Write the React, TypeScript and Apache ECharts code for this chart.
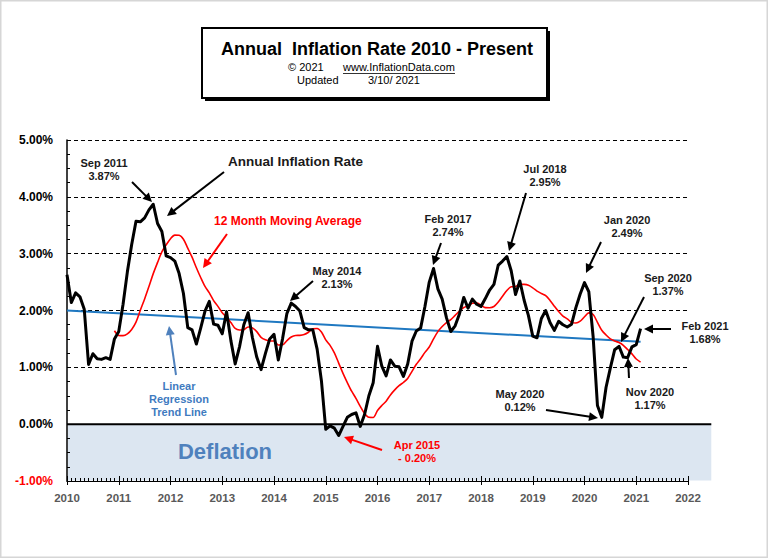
import React, { useEffect, useRef } from "react";
import * as echarts from "echarts";

// ---------- DATA ----------
const START_YEAR = 2010;
const rate2010 = [2.63, 2.14, 2.31, 2.24, 2.02, 1.05, 1.24, 1.15, 1.14, 1.17, 1.14, 1.5];
const rate2011 = [1.63, 2.11, 2.68, 3.16, 3.57, 3.56, 3.63, 3.77, 3.87, 3.53, 3.39, 2.96];
const rate2012 = [2.93, 2.87, 2.65, 2.3, 1.7, 1.66, 1.41, 1.69, 1.99, 2.16, 1.76, 1.74];
const rate2013 = [1.59, 1.98, 1.47, 1.06, 1.36, 1.75, 1.96, 1.52, 1.18, 0.96, 1.24, 1.5];
const rate2014 = [1.58, 1.13, 1.51, 1.95, 2.13, 2.07, 1.99, 1.7, 1.66, 1.66, 1.32, 0.76];
const rate2015 = [-0.09, -0.03, -0.07, -0.2, -0.04, 0.12, 0.17, 0.2, -0.04, 0.17, 0.5, 0.73];
const rate2016 = [1.37, 1.02, 0.85, 1.13, 1.02, 1.01, 0.84, 1.06, 1.46, 1.64, 1.69, 2.07];
const rate2017 = [2.5, 2.74, 2.38, 2.2, 1.87, 1.63, 1.73, 1.94, 2.23, 2.04, 2.2, 2.11];
const rate2018 = [2.07, 2.21, 2.36, 2.46, 2.8, 2.87, 2.95, 2.7, 2.28, 2.52, 2.18, 1.91];
const rate2019 = [1.55, 1.52, 1.86, 2.0, 1.79, 1.65, 1.81, 1.75, 1.71, 1.76, 2.05, 2.29];
const rate2020 = [2.49, 2.33, 1.54, 0.33, 0.12, 0.65, 0.99, 1.31, 1.37, 1.18, 1.17, 1.36];
const rate2021 = [1.4, 1.68];

const annualRate = [
  ...rate2010, ...rate2011, ...rate2012, ...rate2013, ...rate2014, ...rate2015,
  ...rate2016, ...rate2017, ...rate2018, ...rate2019, ...rate2020, ...rate2021,
];

// 12 month moving average, first value = Dec 2010 (month index 11)
const MA_START_INDEX = 11;
const movingAvg = [
  1.644,
  1.561, 1.558, 1.589, 1.666, 1.795, 2.004, 2.203, 2.422, 2.649, 2.846, 3.033, 3.155,
  3.263, 3.327, 3.324, 3.253, 3.097, 2.938, 2.753, 2.58, 2.423, 2.309, 2.173, 2.072,
  1.96, 1.886, 1.788, 1.684, 1.656, 1.663, 1.709, 1.695, 1.628, 1.528, 1.484, 1.464,
  1.463, 1.393, 1.396, 1.47, 1.534, 1.561, 1.563, 1.578, 1.618, 1.677, 1.683, 1.622,
  1.483, 1.386, 1.254, 1.075, 0.894, 0.732, 0.58, 0.455, 0.313, 0.189, 0.121, 0.118,
  0.24, 0.328, 0.404, 0.515, 0.603, 0.678, 0.733, 0.805, 0.93, 1.053, 1.152, 1.263,
  1.358, 1.501, 1.628, 1.718, 1.788, 1.84, 1.914, 1.988, 2.052, 2.085, 2.128, 2.131,
  2.095, 2.051, 2.049, 2.071, 2.148, 2.252, 2.353, 2.417, 2.421, 2.461, 2.459, 2.443,
  2.399, 2.342, 2.3, 2.262, 2.178, 2.076, 1.981, 1.902, 1.854, 1.791, 1.78, 1.812,
  1.89, 1.958, 1.931, 1.792, 1.653, 1.569, 1.501, 1.464, 1.436, 1.388, 1.314, 1.237,
  1.146, 1.092,
];

// linear regression trend line end points (year, %)
const trendYears = [2010, 2021 + 1 / 12];
const trendValues = [2.0, 1.45];

const X_MIN = 2010;
const X_MAX = 2022;
const Y_MIN = -1;
const Y_MAX = 5;

const FONT = 'Arial, "Liberation Sans", sans-serif';
const RED = "#ff0000";
const BLUE_LINE = "#1f78c1";
const BLUE_TEXT = "#3f7bbf";
const DEFLATION_FILL = "#dce6f1";

// annotations (layout)
type Ann = { text: string; x: number; y: number; color?: string; size?: number; align?: string; arrow?: number[] };
const annotations: Ann[] = [
  { text: "Sep 2011\n3.87%", x: 104, y: 169.5, arrow: [132, 182, 152, 202] },
  { text: "Annual Inflation Rate", x: 228, y: 161, size: 13.5, align: "left", arrow: [224, 172, 167, 216] },
  { text: "12 Month Moving Average", x: 214, y: 221, size: 12, align: "left", color: RED, arrow: [227, 234, 203, 268] },
  { text: "Linear\nRegression\nTrend Line", x: 179, y: 399, color: BLUE_TEXT, arrow: [176, 375, 169, 326] },
  { text: "May 2014\n2.13%", x: 337, y: 277, arrow: [313, 281, 290, 301] },
  { text: "Apr 2015\n- 0.20%", x: 417, y: 451.5, color: RED, arrow: [382, 450, 344, 437] },
  { text: "Feb 2017\n2.74%", x: 448, y: 225, arrow: [441, 243, 433, 265] },
  { text: "Jul 2018\n2.95%", x: 545, y: 175, arrow: [526, 193, 509, 251] },
  { text: "Jan 2020\n2.49%", x: 627, y: 226, arrow: [601, 242, 586, 273] },
  { text: "Sep 2020\n1.37%", x: 668, y: 284.5, arrow: [644, 297, 621, 342] },
  { text: "Feb 2021\n1.68%", x: 705, y: 332.5, arrow: [671, 329, 644, 329] },
  { text: "Nov 2020\n1.17%", x: 650, y: 398, arrow: [629, 378, 628, 358] },
  { text: "May 2020\n0.12%", x: 520, y: 400, arrow: [546, 410, 598, 418] },
];

function arrowEls(x1: number, y1: number, x2: number, y2: number, color: string, w = 2) {
  const dx = x2 - x1;
  const dy = y2 - y1;
  const len = Math.hypot(dx, dy);
  const ux = dx / len;
  const uy = dy / len;
  const hl = 9;
  const hw = 4.5;
  const bx = x2 - ux * hl;
  const by = y2 - uy * hl;
  return [
    { type: "line", z: 20, shape: { x1, y1, x2: bx + ux, y2: by + uy }, style: { stroke: color, lineWidth: w } },
    {
      type: "polygon",
      z: 20,
      shape: { points: [[x2, y2], [bx - uy * hw, by + ux * hw], [bx + uy * hw, by - ux * hw]] },
      style: { fill: color },
    },
  ];
}

function textEl(text: string, x: number, y: number, size: number, color: string, align = "center", weight = "bold", lh?: number) {
  return {
    type: "text",
    z: 20,
    x,
    y,
    style: {
      text,
      fill: color,
      fontSize: size,
      fontWeight: weight,
      fontFamily: FONT,
      align,
      verticalAlign: "middle",
      textAlign: align,
      textVerticalAlign: "middle",
      lineHeight: lh ?? Math.round(size * 1.2),
    },
  };
}

export default function App() {
  const ref = useRef<HTMLDivElement>(null);

  useEffect(() => {
    if (!ref.current) return;
    const chart = echarts.init(ref.current, undefined, { renderer: "svg", width: 768, height: 558 });

    const rateData = annualRate.map((v, i) => [START_YEAR + i / 12, v]);
    const maData = movingAvg.map((v, i) => [START_YEAR + (i + MA_START_INDEX) / 12, v]);
    const trendData = trendYears.map((y, i) => [y, trendValues[i]]);

    chart.setOption({
      animation: false,
      backgroundColor: "#ffffff",
      grid: { left: 67, right: 80, top: 140, bottom: 77, containLabel: false },
      xAxis: [
        {
          type: "value",
          min: X_MIN,
          max: X_MAX,
          interval: 1,
          position: "bottom",
          axisLine: { show: true, onZero: false, lineStyle: { color: "#000", width: 1 } },
          axisTick: { show: true, inside: true, length: 5, lineStyle: { color: "#000", width: 1 } },
          minorTick: { show: true, splitNumber: 12, length: 3, lineStyle: { color: "#000", width: 1 } },
          axisLabel: {
            color: "#595959",
            fontWeight: "bold",
            fontSize: 11.5,
            fontFamily: FONT,
            margin: 11,
            formatter: (v: number) => String(Math.round(v)),
          },
          splitLine: { show: false },
        },
        {
          type: "value",
          min: X_MIN,
          max: X_MAX,
          interval: 1,
          position: "bottom",
          axisLine: { show: false, onZero: false },
          axisTick: { show: true, inside: false, length: 4, lineStyle: { color: "#000", width: 1 } },
          axisLabel: { show: false },
          splitLine: { show: false },
        },
      ],
      yAxis: {
        type: "value",
        min: Y_MIN,
        max: Y_MAX,
        interval: 1,
        axisLine: { show: true, onZero: false, lineStyle: { color: "#000", width: 1.5 } },
        axisTick: { show: true, inside: true, length: 4, lineStyle: { color: "#000", width: 1 } },
        minorTick: { show: true, splitNumber: 4, length: 3, lineStyle: { color: "#000", width: 1 } },
        axisLabel: {
          fontWeight: "bold",
          fontSize: 12,
          fontFamily: FONT,
          margin: 14,
          formatter: (v: number) => Number(v).toFixed(2) + "%",
          color: (v: any) => (Number(v) < 0 ? RED : "#000"),
        },
        splitLine: { show: true, lineStyle: { color: "#000", width: 1, type: [4, 3] } },
      },
      series: [
        {
          name: "Linear Regression Trend Line",
          type: "line",
          data: trendData,
          symbol: "none",
          z: 3,
          lineStyle: { color: BLUE_LINE, width: 2 },
        },
        {
          name: "12 Month Moving Average",
          type: "line",
          data: maData,
          symbol: "none",
          smooth: 0.3,
          z: 4,
          lineStyle: { color: RED, width: 1.6 },
        },
        {
          name: "Annual Inflation Rate",
          type: "line",
          data: rateData,
          symbol: "none",
          z: 5,
          lineStyle: { color: "#000", width: 3, join: "round" },
        },
      ],
    });

    const [x0, y0] = chart.convertToPixel({ gridIndex: 0 }, [X_MIN, 0]) as number[];
    const [, yMinus] = chart.convertToPixel({ gridIndex: 0 }, [X_MIN, Y_MIN]) as number[];
    const [xEnd] = chart.convertToPixel({ gridIndex: 0 }, [X_MAX + 0.45, 0]) as number[];

    const els: any[] = [];
    // outer border
    els.push({ type: "rect", z: 0, shape: { x: 0.75, y: 0.75, width: 766.5, height: 556.5 }, style: { fill: "none", stroke: "#d6d6d6", lineWidth: 1.5 } });
    // deflation band
    els.push({ type: "rect", z: 0, shape: { x: x0 + 1, y: y0, width: xEnd - x0 - 1, height: yMinus - y0 - 0.5 }, style: { fill: DEFLATION_FILL } });
    els.push({ type: "line", z: 2, shape: { x1: x0, y1: y0, x2: xEnd, y2: y0 }, style: { stroke: "#000", lineWidth: 2 } });
    els.push(textEl("Deflation", 225, 451, 22, "#4f81bd"));

    // title box
    els.push({ type: "rect", z: 10, shape: { x: 205, y: 31, width: 345, height: 70 }, style: { fill: "#000" } });
    els.push({ type: "rect", z: 11, shape: { x: 202, y: 28, width: 345, height: 70 }, style: { fill: "#fff", stroke: "#000", lineWidth: 2 } });
    els.push(textEl("Annual  Inflation Rate 2010 - Present", 377, 49, 18, "#000"));
    els.push(textEl("© 2021", 288, 67, 11, "#000", "left", "normal"));
    els.push(textEl("www.InflationData.com", 343, 67, 11, "#000", "left", "normal"));
    els.push({ type: "line", z: 21, shape: { x1: 343, y1: 73.5, x2: 455, y2: 73.5 }, style: { stroke: "#000", lineWidth: 0.8 } });
    els.push(textEl("Updated", 297, 80, 11, "#000", "left", "normal"));
    els.push(textEl("3/10/ 2021", 368, 80, 11, "#000", "left", "normal"));

    for (const a of annotations) {
      const color = a.color ?? "#1a1a1a";
      els.push(textEl(a.text, a.x, a.y, a.size ?? 11, color, a.align ?? "center", "bold", 13));
      if (a.arrow) {
        const arrowColor = a.color === BLUE_TEXT ? "#4f81bd" : a.color ?? "#000";
        els.push(...arrowEls(a.arrow[0], a.arrow[1], a.arrow[2], a.arrow[3], arrowColor));
      }
    }

    chart.setOption({ graphic: { elements: els } });

    return () => chart.dispose();
  }, []);

  return <div ref={ref} style={{ position: "fixed", left: 0, top: 0, width: 768, height: 558 }} />;
}
